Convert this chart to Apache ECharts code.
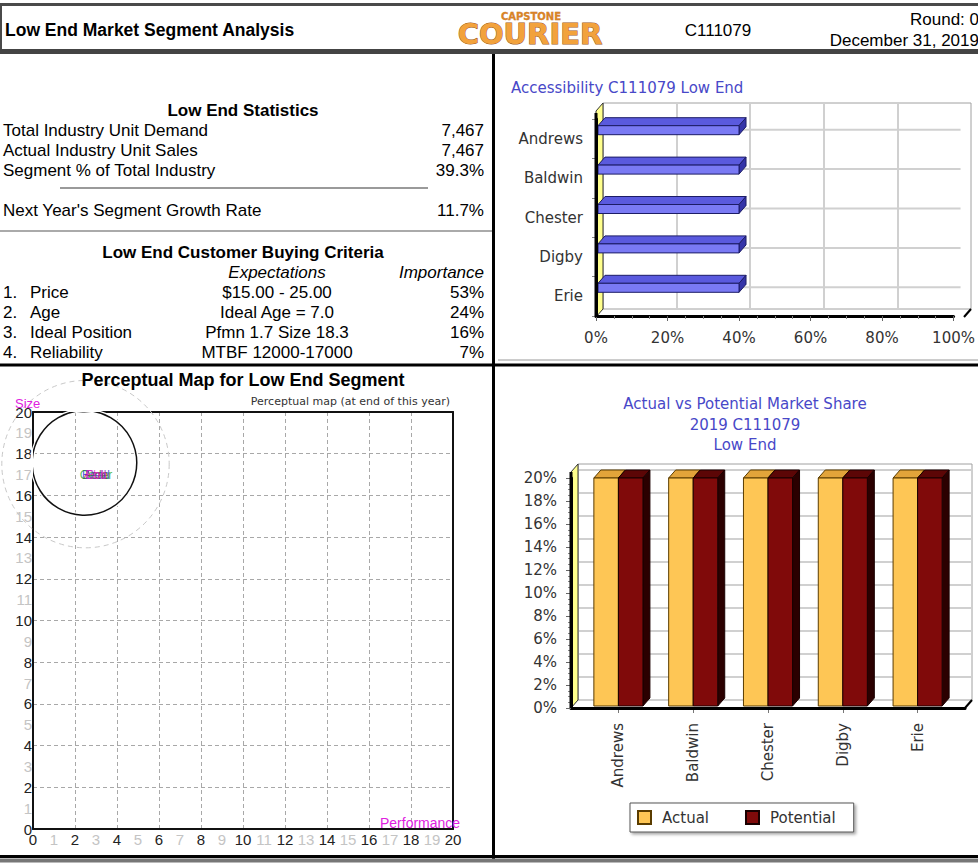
<!DOCTYPE html>
<html><head><meta charset="utf-8">
<script src="https://cdn.jsdelivr.net/npm/echarts@6/dist/echarts.min.js"></script>
<style>html,body{margin:0;padding:0;background:#fff;overflow:hidden}#c{width:978px;height:864px}</style>
</head><body><div id="c"></div>
<script>
// ---------- data ----------
const companies = ['Andrews','Baldwin','Chester','Digby','Erie'];
const accessibility = [40,40,40,40,40];
const actualShare = [20,20,20,20,20];
const potentialShare = [20,20,20,20,20];
const products = ['Acre','Bead','Cedar','Dell','Ebb'];
const productPfmn = [3.0,3.0,3.0,3.0,3.0];
const productSize = [17.0,17.0,17.0,17.0,17.0];
const segmentCenter = [2.5, 17.5];
const fineCutRadius = 2.5;
const roughCutRadius = 4.0;
const statLabels = ['Total Industry Unit Demand','Actual Industry Unit Sales','Segment % of Total Industry'];
const statValues = ['7,467','7,467','39.3%'];
const growthLabel = "Next Year's Segment Growth Rate";
const growthValue = '11.7%';
const criteria = ['Price','Age','Ideal Position','Reliability'];
const expectations = ['$15.00 - 25.00','Ideal Age = 7.0','Pfmn 1.7 Size 18.3','MTBF 12000-17000'];
const importance = ['53%','24%','16%','7%'];
const headerTexts = ['Low End Market Segment Analysis','C111079','Round: 0','December 31, 2019'];
const logoTexts = ['CAPSTONE','COURIER'];
const accTitle = 'Accessibility C111079 Low End';
const msTitle = ['Actual vs Potential Market Share','2019 C111079','Low End'];
const pmTitle = 'Perceptual Map for Low End Segment';
const pmSubtitle = 'Perceptual map (at end of this year)';
const pmAxisNames = ['Size','Performance'];
const seriesNames = ['Actual','Potential'];

// ---------- style / layout ----------
const ARIAL = '"Liberation Sans", Arial, sans-serif';
const NARROW = '"Liberation Sans Narrow", "Liberation Sans", Arial, sans-serif';
const TAHOMA = '"DejaVu Sans", Verdana, sans-serif';
const productColors = ['#d01010','#2020d0','#20a020','#8020b0','#e020c0'];
const ACC = {left:596, top:119, width:368, height:197};
const ACC_BACK = {left:603, top:103, width:368, height:206};
const MS = {left:571, top:478, width:394, height:230};
const MS_BARS = {left:581, top:478, width:374, height:230};
const MS_BACK = {left:578, top:464, width:394, height:236};
const PM = {left:33, top:412, width:420, height:417};
const D3 = {dx:7, dy:-8};

function txt(text, x, y, font, fill, align, extra){
  return {type:'text', silent:true, z:50, style:Object.assign({text, x, y, font, fill: fill||'#000',
    textAlign: align||'left', align: align||'left', textVerticalAlign:'middle', verticalAlign:'middle'}, extra||{})};
}
function line(x1,y1,x2,y2,stroke,w,z){
  return {type:'line', silent:true, z: z==null?60:z, shape:{x1,y1,x2,y2}, style:{stroke, lineWidth:w}};
}

const graphics = [];
// header
graphics.push(line(0,4.5,978,4.5,'#4a4a4a',3));
graphics.push(line(1,4,1,52,'#4a4a4a',2));
graphics.push(line(0,51.5,978,51.5,'#444',5));
graphics.push(txt(headerTexts[0], 5, 30, 'bold 17.5px '+ARIAL, '#000'));
graphics.push(txt(logoTexts[0], 531, 16, 'bold 10px '+TAHOMA, '#d98326', 'center', {stroke:'#b86a1c', lineWidth:0.3}));
graphics.push(txt(logoTexts[1], 530, 34, 'bold 29px '+TAHOMA, '#f2a23c', 'center', {stroke:'#9a5a1c', lineWidth:1}));
graphics.push(txt(headerTexts[1], 718, 30, '17px '+ARIAL, '#000', 'center'));
graphics.push(txt(headerTexts[2], 979, 19, '17px '+ARIAL, '#000', 'right'));
graphics.push(txt(headerTexts[3], 979, 40, '17px '+ARIAL, '#000', 'right'));

// left stats panel
graphics.push(txt('Low End Statistics', 243, 110, 'bold 17px '+ARIAL, '#000', 'center'));
statLabels.forEach((s,i)=>{
  graphics.push(txt(s, 3, 130+20*i, '17px '+ARIAL));
  graphics.push(txt(statValues[i], 484, 130+20*i, '17px '+ARIAL, '#000', 'right'));
});
graphics.push(line(60,188,428,188,'#9a9a9a',2));
graphics.push(txt(growthLabel, 3, 210, '17px '+ARIAL));
graphics.push(txt(growthValue, 484, 210, '17px '+ARIAL, '#000', 'right'));
graphics.push(line(0,231,492,231,'#aaaaaa',2));
graphics.push(txt('Low End Customer Buying Criteria', 243, 252, 'bold 17px '+ARIAL, '#000', 'center'));
graphics.push(txt('Expectations', 277, 272, 'italic 17px '+ARIAL, '#000', 'center'));
graphics.push(txt('Importance', 484, 272, 'italic 17px '+ARIAL, '#000', 'right'));
criteria.forEach((c,i)=>{
  const y = 292+20*i;
  graphics.push(txt((i+1)+'.', 3, y, '17px '+ARIAL));
  graphics.push(txt(c, 30, y, '17px '+ARIAL));
  graphics.push(txt(expectations[i], 277, y, '17px '+ARIAL, '#000', 'center'));
  graphics.push(txt(importance[i], 484, y, '17px '+ARIAL, '#000', 'right'));
});

// dividers
graphics.push(line(493.5,54,493.5,860,'#000',3,70));
graphics.push(line(0,365,978,365,'#000',3,70));
graphics.push(line(498,360,978,360,'#cccccc',2,70));
graphics.push(line(0,856.5,978,856.5,'#000',3,70));
graphics.push(line(0,860.5,978,860.5,'#777',4,70));

// accessibility chart decorations
graphics.push(txt(accTitle, 511, 88, '15px '+TAHOMA, '#4848c8'));
{
  const l = ACC.left, b = ACC.top+ACC.height, bt = ACC_BACK.top;
  graphics.push({type:'polygon', silent:true, z:5, shape:{points:[[l,b+1],[l+D3.dx,b+1+D3.dy],[l+D3.dx,bt],[l,bt-D3.dy]]}, style:{fill:'#ffff8c', stroke:'#333', lineWidth:1}});
  graphics.push(line(l,bt-D3.dy+2,l,b+1,'#000',3,20));
  const r = ACC.left+ACC.width;
  graphics.push(line(r,b+1,r+D3.dx,b+1+D3.dy,'#000',2,20));
}
// market share decorations
msTitle.forEach((t,i)=> graphics.push(txt(t, 745, 404+20.5*i, '15px '+TAHOMA, '#4848c8', 'center')));
{
  const l = MS.left, b = MS.top+MS.height, bt = MS_BACK.top;
  graphics.push({type:'polygon', silent:true, z:5, shape:{points:[[l,b],[l+D3.dx,b+D3.dy],[l+D3.dx,bt],[l,bt-D3.dy]]}, style:{fill:'#ffff8c', stroke:'#333', lineWidth:1}});
  graphics.push(line(l,bt-D3.dy,l,b,'#000',3,20));
  const r = MS.left+MS.width;
  graphics.push(line(r,b,r+D3.dx,b+D3.dy,'#000',2,20));
}
// perceptual map texts
graphics.push(txt(pmTitle, 243, 380, 'bold 18px '+ARIAL, '#000', 'center'));
graphics.push(txt(pmSubtitle, 450, 401, '11px '+TAHOMA, '#333', 'right'));
graphics.push(txt(pmAxisNames[0], 15, 403, '13px '+ARIAL, '#e020e0'));
graphics.push(txt(pmAxisNames[1], 380, 823, '14px '+ARIAL, '#e020e0'));

// ---------- render helpers ----------
function accBarRender(params, api){
  const v = api.value(0), i = api.value(1);
  const a = api.coord([0,i]), b = api.coord([v,i]);
  const cy = a[1], x0 = a[0]+2, x1 = b[0];
  const t = cy-13, bt = cy-4, dx = D3.dx, dy = D3.dy, st = '#1c1c66';
  return {type:'group', children:[
    {type:'polygon', shape:{points:[[x0,t],[x0+dx,t+dy],[x1+dx,t+dy],[x1,t]]}, style:{fill:'#5a5ade', stroke:st, lineWidth:1}},
    {type:'polygon', shape:{points:[[x1,t],[x1+dx,t+dy],[x1+dx,bt+dy],[x1,bt]]}, style:{fill:'#3434a8', stroke:st, lineWidth:1}},
    {type:'rect', shape:{x:x0,y:t,width:x1-x0,height:bt-t}, style:{fill:'#7a7af4', stroke:st, lineWidth:1}}
  ]};
}
function accGridRender(params, api){
  const i = api.value(1);
  const a = api.coord([0,i]), b = api.coord([100,i]);
  return {type:'line', shape:{x1:a[0]+D3.dx, y1:a[1]-9, x2:b[0]+D3.dx, y2:b[1]-9}, style:{stroke:'#d0d0d0', lineWidth:2}};
}
function shareBar(side, front, top, sideC, stroke){
  return function(params, api){
    const i = api.value(0), v = api.value(1);
    const base = api.coord([i,0]), tp = api.coord([i,v]);
    const bw = api.size([1,0])[0]*0.328;
    const x0 = side ? base[0] : base[0]-bw, x1 = x0+bw;
    const y0 = base[1]-2, y1 = tp[1];
    const dx = D3.dx, dy = D3.dy;
    return {type:'group', children:[
      {type:'polygon', shape:{points:[[x0,y1],[x0+dx,y1+dy],[x1+dx,y1+dy],[x1,y1]]}, style:{fill:top, stroke, lineWidth:1}},
      {type:'polygon', shape:{points:[[x1,y1],[x1+dx,y1+dy],[x1+dx,y0+dy],[x1,y0]]}, style:{fill:sideC, stroke, lineWidth:1}},
      {type:'rect', shape:{x:x0,y:y1,width:bw,height:y0-y1}, style:{fill:front, stroke, lineWidth:1}}
    ]};
  };
}
function circleRender(stroke, w, dash){
  return function(params, api){
    const c = api.coord([api.value(0), api.value(1)]);
    const s = api.size([api.value(2), api.value(2)]);
    return {type:'circle', shape:{cx:c[0], cy:c[1], r:(s[0]+s[1])/2}, style:{fill:'none', stroke, lineWidth:w, lineDash:dash}};
  };
}
const oddEven = (v)=> (Math.round(Number(v)) % 2 ? '#c4c4c4' : '#222');
const fineCutData = [[segmentCenter[0]-0.05, segmentCenter[1]+0.06, fineCutRadius]];

const chart = echarts.init(document.getElementById('c'), null, {renderer:'svg'});
chart.setOption({
  animation:false,
  backgroundColor:'#fff',
  graphic: graphics,
  grid:[
    Object.assign({containLabel:false}, ACC),
    Object.assign({show:true, borderColor:'#a0a0a0', borderWidth:1, backgroundColor:'#fff', z:0}, ACC_BACK),
    Object.assign({}, MS),
    Object.assign({}, MS_BARS),
    Object.assign({show:true, borderColor:'#a0a0a0', borderWidth:1, backgroundColor:'#fff', z:0}, MS_BACK),
    Object.assign({}, PM)
  ],
  xAxis:[
    {gridIndex:0, type:'value', min:0, max:100, interval:20, z:10,
     axisLine:{show:true, onZero:false, lineStyle:{color:'#000', width:3}},
     axisTick:{show:true, length:5, lineStyle:{color:'#666'}},
     minorTick:{show:true, splitNumber:4, length:3, lineStyle:{color:'#888'}},
     splitLine:{show:false},
     axisLabel:{formatter:'{value}%', margin:14, fontFamily:TAHOMA, fontSize:15, color:'#333'}},
    {gridIndex:1, type:'value', min:0, max:100, interval:20,
     axisLine:{show:false}, axisTick:{show:false}, axisLabel:{show:false},
     splitLine:{show:true, showMinLine:false, showMaxLine:false, lineStyle:{color:'#d0d0d0', width:2}}},
    {gridIndex:2, type:'value', min:0, max:1, z:10,
     axisLine:{show:true, onZero:false, lineStyle:{color:'#000', width:3}},
     axisTick:{show:false}, axisLabel:{show:false}, splitLine:{show:false}},
    {gridIndex:3, type:'category', data:companies,
     axisLine:{show:false}, axisTick:{show:true, alignWithLabel:true, length:5, lineStyle:{color:'#777'}},
     axisLabel:{rotate:90, margin:15, fontFamily:TAHOMA, fontSize:15, color:'#333'}},
    {gridIndex:4, type:'value', min:0, max:1, show:false},
    {gridIndex:5, type:'value', min:0, max:20, interval:1,
     axisLine:{show:true, onZero:false, lineStyle:{color:'#111', width:2}}, axisTick:{show:false}, splitLine:{show:false},
     axisLabel:{margin:3, fontFamily:NARROW, fontSize:15, color:oddEven}},
    {gridIndex:5, type:'value', min:0, max:20, interval:2, position:'top',
     axisLine:{show:true, onZero:false, lineStyle:{color:'#111', width:2}}, axisTick:{show:false}, axisLabel:{show:false},
     splitLine:{show:true, showMinLine:false, showMaxLine:false, lineStyle:{color:'#a8a8a8', type:[4,3], width:1}}}
  ],
  yAxis:[
    {gridIndex:0, type:'category', data:companies, inverse:true, z:10,
     axisLine:{show:true, lineStyle:{color:'#000', width:3}},
     axisTick:{show:true, length:4, lineStyle:{color:'#888'}},
     axisLabel:{margin:13, fontFamily:TAHOMA, fontSize:15, color:'#333'}},
    {gridIndex:1, type:'value', show:false, min:0, max:1},
    {gridIndex:2, type:'value', min:0, max:20, interval:2, z:10,
     axisLine:{show:true, onZero:false, lineStyle:{color:'#000', width:3}},
     axisTick:{show:true, length:5, lineStyle:{color:'#666'}},
     minorTick:{show:true, splitNumber:4, length:3, lineStyle:{color:'#888'}},
     splitLine:{show:false},
     axisLabel:{formatter:'{value}%', margin:14, fontFamily:TAHOMA, fontSize:15, color:'#333'}},
    {gridIndex:3, type:'value', min:0, max:20, show:false},
    {gridIndex:4, type:'value', min:0, max:20.5, interval:2,
     axisLine:{show:false}, axisTick:{show:false}, axisLabel:{show:false},
     splitLine:{show:true, showMinLine:false, showMaxLine:false, lineStyle:{color:'#d0d0d0', width:2}}},
    {gridIndex:5, type:'value', min:0, max:20, interval:1,
     axisLine:{show:true, onZero:false, lineStyle:{color:'#111', width:2}}, axisTick:{show:false}, splitLine:{show:false},
     axisLabel:{margin:1, fontFamily:NARROW, fontSize:15, color:oddEven}},
    {gridIndex:5, type:'value', min:0, max:20, interval:2, position:'right',
     axisLine:{show:true, onZero:false, lineStyle:{color:'#111', width:2}}, axisTick:{show:false}, axisLabel:{show:false},
     splitLine:{show:true, showMinLine:false, showMaxLine:false, lineStyle:{color:'#a8a8a8', type:[4,3], width:1}}}
  ],
  legend:{
    data:seriesNames, left:630, top:803, orient:'horizontal',
    icon:'rect', itemWidth:13, itemHeight:13, itemGap:36,
    padding:[7,18,7,7], borderColor:'#555', borderWidth:1, backgroundColor:'#fff',
    shadowBlur:3, shadowOffsetX:2, shadowOffsetY:2, shadowColor:'rgba(0,0,0,0.35)',
    textStyle:{fontFamily:TAHOMA, fontSize:15, color:'#333', padding:[0,0,0,6]},
    selectedMode:false
  },
  series:[
    {type:'custom', name:'accGrid', xAxisIndex:0, yAxisIndex:0, z:1, silent:true, clip:false,
     data:companies.map((c,i)=>[0,i]), encode:{x:0,y:1}, renderItem:accGridRender},
    {type:'custom', name:'Accessibility', xAxisIndex:0, yAxisIndex:0, z:8, clip:false,
     data:accessibility.map((v,i)=>[v,i]), encode:{x:0,y:1}, renderItem:accBarRender},
    {type:'custom', name:seriesNames[0], xAxisIndex:3, yAxisIndex:3, z:8, clip:false,
     itemStyle:{color:'#fec655', borderColor:'#5a3c00', borderWidth:1},
     data:actualShare.map((v,i)=>[i,v]), encode:{x:0,y:1},
     renderItem:shareBar(0,'#fec655','#e2a43a','#b07a20','#5a3c00')},
    {type:'custom', name:seriesNames[1], xAxisIndex:3, yAxisIndex:3, z:8, clip:false,
     itemStyle:{color:'#800a0a', borderColor:'#1a0000', borderWidth:1},
     data:potentialShare.map((v,i)=>[i,v]), encode:{x:0,y:1},
     renderItem:shareBar(1,'#800a0a','#5c0606','#2b0000','#1a0000')},
    {type:'custom', name:'Rough cut', xAxisIndex:5, yAxisIndex:5, z:3, silent:true, clip:false,
     data:[[segmentCenter[0], segmentCenter[1], roughCutRadius]], renderItem:circleRender('#c8c8c8',1,[5,4])},
    {type:'custom', name:'Fine cut halo', xAxisIndex:5, yAxisIndex:5, z:4, silent:true, clip:false,
     data:fineCutData, renderItem:circleRender('#ffffff',4,null)},
    {type:'custom', name:'Fine cut', xAxisIndex:5, yAxisIndex:5, z:5, silent:true, clip:true,
     data:fineCutData, renderItem:circleRender('#111',1.5,null)},
    {type:'scatter', name:'Products', xAxisIndex:5, yAxisIndex:5, z:6, symbolSize:1, silent:true,
     itemStyle:{color:'rgba(0,0,0,0)'},
     data:products.map((p,i)=>({name:p, value:[productPfmn[i], productSize[i]],
        label:{color:productColors[i]}})),
     label:{show:true, position:'inside', formatter:'{b}', fontFamily:ARIAL, fontSize:12, opacity:0.75}}
  ]
});
</script></body></html>
